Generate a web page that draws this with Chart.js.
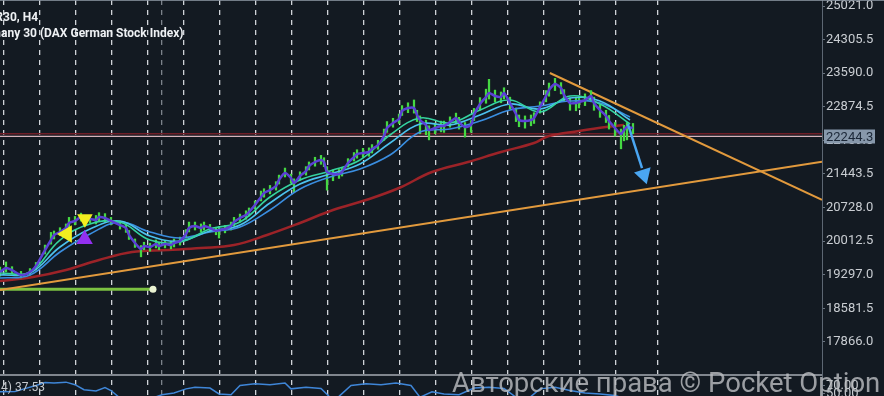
<!DOCTYPE html>
<html>
<head>
<meta charset="utf-8">
<script src="https://cdn.jsdelivr.net/npm/chart.js@4/dist/chart.umd.min.js"></script>
<style>
  html, body { margin: 0; padding: 0; background: #131a22; }
  #wrap { width: 884px; height: 396px; position: relative; }
</style>
</head>
<body>
<div id="wrap"><canvas id="chart"></canvas></div>
<script>
// bar index (H4 bars), close
const price = [
  [0,19357],[2,19442],[4,19399],[7,19293],[10,19357],[12,19484],[15,19825],[17,20038],[18,20145],[20,20208],
  [22,20294],[23,20400],[25,20443],[27,20528],[28,20421],[30,20485],[32,20464],[33,20528],[35,20507],[37,20443],
  [40,20357],[42,20294],[43,20145],[45,19974],[47,19846],[48,19910],[50,19889],[52,19953],[53,19910],[55,19953],
  [57,19932],[58,19974],[60,20017],[62,20166],[63,20294],[65,20336],[67,20294],[68,20336],[70,20294],[72,20230],
  [73,20251],[75,20272],[77,20336],[78,20421],[80,20507],[82,20570],[83,20634],[85,20783],[87,20954],[88,21039],
  [90,21103],[92,21188],[93,21316],[95,21465],[97,21358],[98,21252],[100,21401],[102,21507],[103,21614],[105,21699],
  [107,21742],[108,21699],[109,21486],[111,21444],[113,21444],[114,21486],[116,21678],[118,21805],[119,21869],[121,21891],
  [123,21912],[124,21976],[126,22061],[128,22253],[129,22423],[131,22530],[133,22615],[134,22785],[136,22849],[138,22849],
  [139,22700],[140,22593],[142,22487],[143,22380],[145,22423],[147,22466],[148,22466],[150,22551],[152,22636],[153,22551],
  [155,22444],[157,22487],[158,22700],[160,22934],[162,23083],[163,23168],[165,23104],[167,23083],[168,23168],[170,22955],
  [172,22721],[173,22593],[175,22572],[177,22593],[178,22636],[180,22870],[182,23104],[183,23232],[185,23360],[187,23275],
  [188,23126],[190,22955],[192,22955],[193,22977],[195,23019],[197,23104],[198,22955],[200,22806],[202,22679],[203,22572],
  [205,22423],[207,22295],[208,22380],[209,22444],[211,22423]
];

// bar index, low, high
const candles = [
  [0,19270,19460],[2,19360,19570],[4,19320,19470],[7,19230,19370],[10,19290,19430],[12,19400,19560],[15,19740,19930],[17,19950,20200],
  [18,20060,20230],[20,20130,20300],[22,20210,20380],[23,20300,20520],[25,20360,20540],[27,20440,20610],[28,20340,20500],[30,20400,20560],
  [32,20380,20560],[33,20440,20620],[35,20420,20600],[37,20360,20520],[40,20270,20440],[42,20200,20380],[43,20050,20240],[45,19880,20060],
  [47,19680,19920],[48,19830,19990],[50,19800,19970],[52,19870,20040],[53,19830,19990],[55,19870,20030],[57,19850,20010],[58,19890,20060],
  [60,19930,20100],[62,20080,20260],[63,20210,20420],[65,20250,20420],[67,20210,20380],[68,20250,20420],[70,20210,20370],[72,20150,20310],
  [73,20080,20330],[75,20190,20350],[77,20250,20420],[78,20340,20520],[80,20420,20590],[82,20480,20660],[83,20550,20720],[85,20700,20870],
  [87,20870,21080],[88,20950,21130],[90,21020,21200],[92,21100,21280],[93,21230,21420],[95,21380,21570],[97,21250,21440],[98,21060,21340],
  [100,21310,21490],[102,21420,21600],[103,21530,21700],[105,21610,21800],[107,21650,21840],[108,21600,21790],[109,21100,21600],[111,21300,21530],
  [113,21350,21540],[114,21400,21580],[116,21590,21770],[118,21720,21900],[119,21780,21960],[121,21800,21990],[123,21820,22000],[124,21890,22070],
  [126,21970,22160],[128,22160,22400],[129,22330,22560],[131,22440,22630],[133,22520,22720],[134,22690,22900],[136,22750,22960],[138,22740,23020],
  [139,22560,22800],[140,22300,22680],[142,22280,22590],[143,22170,22470],[145,22300,22530],[147,22340,22570],[148,22330,22570],[150,22440,22660],
  [152,22520,22740],[153,22400,22650],[155,22230,22540],[157,22330,22580],[158,22580,22840],[160,22800,23070],[162,22950,23250],[163,23040,23460],
  [165,22980,23230],[167,22960,23190],[168,23040,23280],[170,22830,23080],[172,22560,22850],[173,22450,22700],[175,22420,22680],[177,22470,22700],
  [178,22520,22750],[180,22740,22980],[182,22980,23220],[183,23100,23380],[185,23220,23480],[187,23150,23390],[188,22990,23240],[190,22800,23060],
  [192,22790,23070],[193,22850,23100],[195,22900,23150],[197,22980,23220],[198,22800,23080],[200,22650,22920],[202,22540,22800],[203,22400,22690],
  [205,22250,22540],[207,21980,22400],[208,22150,22480],[209,22170,22540],[211,22300,22520]
];

// moving averages
const maX = [0,10,20,30,40,50,60,70,80,90,100,110,120,130,140,150,160,170,180,190,200,210];
const maTeal = [19335,19357,20038,20379,20421,20038,19996,20272,20421,20954,21316,21507,21742,22274,22636,22530,22806,23019,22764,23104,22934,22508];
const maLight = [19293,19335,19889,20272,20443,20123,20017,20230,20357,20826,21230,21443,21657,22104,22508,22487,22700,22934,22828,23062,22998,22593];
const maBlue = [19229,19293,19782,20166,20421,20208,20081,20208,20315,20677,21124,21380,21550,21848,22338,22402,22572,22806,22891,22998,22955,22657];
const ma200X = [0,11,22,33,44,56,67,78,89,100,111,122,133,144,156,167,178,183,193,202,208];
const ma200 = [19165,19250,19399,19612,19782,19825,19867,19932,20145,20400,20677,20889,21145,21486,21699,21912,22104,22253,22359,22444,22487];

// RSI (14)
const rsi = [
  [0,55],[5,56],[8,62],[12,70],[15,77],[18,76],[22,78],[25,72],[28,60],[32,57],[35,65],[37,58],[40,40],[45,35],
  [50,38],[54,48],[58,52],[62,62],[65,66],[70,64],[73,50],[77,48],[80,70],[85,74],[90,72],[95,76],[97,62],[102,66],
  [107,63],[110,42],[113,44],[117,70],[122,74],[127,72],[132,76],[137,70],[140,42],[144,55],[148,50],[153,48],[158,64],
  [163,66],[168,63],[172,42],[177,44],[180,62],[185,66],[190,58],[195,52],[200,50],[205,46],[209,37.53]
];

// drawings
const supportLine = [[0,18973],[274,21705]];
const resistLine = [[183.3,23594],[274,20894]];
const rangeLine = [[0,18988],[51,18988]];
const arrowShaft = [[209.3,22508],[214,21571]];
const arrowHead = [[214.6,21429]];
const signals = [[22.3,20166],[28.3,20492],[28.2,20053]];

const lastPrice = 22244.3;
const prevLevel = 22300;
const yTicks = [17866.0,18581.5,19297.0,20012.5,20728.0,21443.5,22159.0,22874.5,23590.0,24305.5,25021.0];
const rsiTicks = [50, 70];
const gridBars = [1.1,13.1,25.1,37.1,49.1,61.1,73.1,85.1,97.1,109.1,121.1,133.1,145.1,157.1,169.1,181.1,193.1,205.1,219.1];
const dayBreak = 53.9;

const pts = arr => arr.map(([x, y]) => ({ x, y }));
const xy = (xs, ys) => xs.map((x, i) => ({ x, y: ys[i] }));
const level = v => [{ x: 0, y: v }, { x: 274, y: v }];

const line = (data, color, width, order, extra) => Object.assign({
  type: 'line', data, borderColor: color, borderWidth: width, pointRadius: 0,
  fill: false, tension: 0, order
}, extra || {});

const overlay = {
  id: 'overlay',
  afterDraw(chart) {
    const { ctx, chartArea, scales } = chart;
    ctx.save();
    // top edge + pane separator
    ctx.strokeStyle = 'rgba(140,150,162,0.8)';
    ctx.lineWidth = 1;
    ctx.beginPath(); ctx.moveTo(0, 0.5); ctx.lineTo(884, 0.5); ctx.stroke();
    ctx.strokeStyle = '#80868e';
    ctx.lineWidth = 2;
    const sep = Math.round(scales.y2.top);
    ctx.beginPath(); ctx.moveTo(chartArea.left, sep); ctx.lineTo(chartArea.right, sep); ctx.stroke();

    // symbol titles, clipped at the left edge like the screenshot
    ctx.fillStyle = '#eef1f4';
    ctx.font = '700 12px Roboto';
    ctx.fillText('GER30, H4', 3 - ctx.measureText('GER').width, 21);
    ctx.fillText('Germany 30 (DAX German Stock Index)', 1 - ctx.measureText('Germ').width, 37);

    ctx.fillStyle = '#c5c9ce';
    ctx.font = '12px Roboto';
    ctx.fillText('RSI (14) 37.53', 1 - ctx.measureText('RSI (1').width, 391);

    // last price tag
    const py = scales.y.getPixelForValue(lastPrice);
    ctx.fillStyle = '#8798ab';
    ctx.fillRect(824, Math.round(py) - 6.5, 51, 14);
    ctx.fillStyle = '#1c2838';
    ctx.font = '13px Roboto';
    ctx.fillText(lastPrice.toFixed(1), 826, Math.round(py) + 5);

    // watermark
    const wm = 'Авторские права © Pocket Option';
    ctx.font = '28px Roboto';
    const size = 28 * 428 / ctx.measureText(wm).width;
    ctx.font = size.toFixed(1) + 'px Roboto';
    ctx.fillStyle = 'rgba(185,188,192,0.82)';
    ctx.fillText(wm, 452, 392);
    ctx.restore();
  }
};

new Chart(document.getElementById('chart'), {
  type: 'line',
  data: {
    datasets: [
      line(pts(signals), 'transparent', 0, 0, {
        showLine: false, pointStyle: 'triangle', pointRadius: [10, 9, 9.5], pointRotation: [270, 180, 0],
        pointBackgroundColor: ['#f2ee1f', '#f2ee1f', '#9330f0'], pointBorderWidth: 0
      }),
      line(pts(arrowHead), 'transparent', 0, 1, {
        showLine: false, pointStyle: 'triangle', pointRadius: 10, pointRotation: 163,
        pointBackgroundColor: '#4aa6f2', pointBorderWidth: 0
      }),
      line(pts(arrowShaft), '#4aa6f2', 2.5, 2),
      line(pts(price), '#5b40d6', 2.5, 3, { tension: 0.25 }),
      line(xy(maX, maTeal), '#35d3a0', 1.6, 4, { tension: 0.4 }),
      line(xy(maX, maLight), '#4cc2ee', 1.6, 5, { tension: 0.4 }),
      line(xy(maX, maBlue), '#3a8ee0', 1.6, 6, { tension: 0.4 }),
      {
        type: 'bar', order: 7,
        data: candles.map(([x, lo, hi]) => ({ x, y: [lo, hi] })),
        backgroundColor: '#45d843', borderWidth: 0, barThickness: 1.6
      },
      line(xy(ma200X, ma200), '#9c2328', 2.5, 8, { tension: 0.4 }),
      line(pts(supportLine), '#e29a3d', 2, 9),
      line(pts(resistLine), '#e29a3d', 2, 9),
      line(pts(rangeLine), '#7cc242', 3, 10, {
        pointRadius: [0, 3.5], pointBackgroundColor: '#eaf3d2', pointBorderWidth: 0
      }),
      line(level(prevLevel), '#6e1e27', 1.5, 11),
      line(level(lastPrice), '#d5b3bb', 1.3, 12),
      line(pts(rsi), '#3f86d8', 1.5, 13, { yAxisID: 'y2' })
    ]
  },
  options: {
    responsive: true,
    maintainAspectRatio: false,
    animation: false,
    events: [],
    layout: { padding: 0, autoPadding: false },
    plugins: { legend: { display: false }, tooltip: { enabled: false } },
    scales: {
      x: {
        type: 'linear', min: 0, max: 274, offset: false,
        ticks: { display: false },
        border: { display: false, dash: [5, 5] },
        grid: {
          offset: false, drawTicks: false, lineWidth: 1.3,
          color: c => (c.tick && c.tick.value === dayBreak) ? '#7b828a' : 'rgba(228,232,236,0.9)'
        },
        afterBuildTicks: s => { s.ticks = gridBars.concat([dayBreak]).sort((a, b) => a - b).map(v => ({ value: v })); }
      },
      y: {
        type: 'linear', position: 'right', stack: 'pane', stackWeight: 375,
        min: 17163.2, max: 25148.8, beginAtZero: false,
        border: { display: true, color: '#5d6773', width: 1 },
        grid: { drawOnChartArea: false, drawTicks: true, tickLength: 3, color: '#6a7480' },
        ticks: {
          color: '#c9cdd2', padding: 1, autoSkip: false,
          font: { family: 'Roboto', size: 13 },
          callback: v => Number(v).toFixed(1)
        },
        afterBuildTicks: s => { s.ticks = yTicks.map(v => ({ value: v })); },
        afterFit: s => { s.width = 62; s.paddingTop = 0; s.paddingBottom = 0; }
      },
      y2: {
        type: 'linear', position: 'right', stack: 'pane', stackWeight: 21,
        min: 45, max: 95, beginAtZero: false,
        border: { display: true, color: '#5d6773', width: 1 },
        grid: { drawOnChartArea: false, drawTicks: true, tickLength: 3, color: '#6a7480' },
        ticks: {
          color: '#c9cdd2', padding: 1, autoSkip: false,
          font: { family: 'Roboto', size: 13 },
          callback: v => Number(v).toFixed(2)
        },
        afterBuildTicks: s => { s.ticks = rsiTicks.map(v => ({ value: v })); },
        afterFit: s => { s.width = 62; s.paddingTop = 0; s.paddingBottom = 0; }
      }
    }
  },
  plugins: [overlay]
});
</script>
</body>
</html>
